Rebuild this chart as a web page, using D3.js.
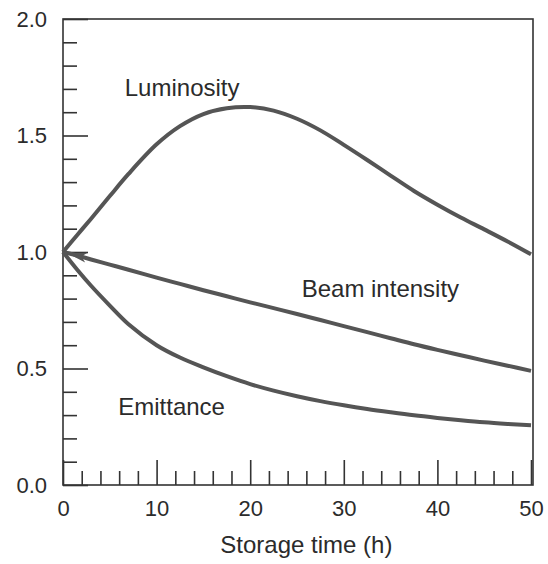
<!DOCTYPE html>
<html>
<head>
<meta charset="utf-8">
<script src="https://cdn.jsdelivr.net/npm/d3@7"></script>
<style>
  html, body { margin: 0; padding: 0; background: #fff; }
  svg { display: block; }
  text { font-family: "Liberation Sans", Arial, Helvetica, sans-serif; fill: #2b2b2b; }
</style>
</head>
<body>
<svg id="chart" width="548" height="564"></svg>
<script>
// Storage time in hours
const hours = [0, 1.5, 3, 5, 7, 10, 12.5, 15, 17.5, 20, 22.5, 25, 27.5, 30, 32.5, 35, 37.5, 40, 42.5, 45, 47.5, 50];

// Relative quantities (normalised to 1 at injection)
const luminosity = [1.0, 1.072, 1.143, 1.24, 1.335, 1.462, 1.54, 1.592, 1.617, 1.622, 1.607, 1.572, 1.522, 1.46, 1.395, 1.328, 1.262, 1.203, 1.148, 1.097, 1.045, 0.99];
const beamIntensity = [1.0, 0.985, 0.968, 0.946, 0.924, 0.89, 0.863, 0.836, 0.81, 0.784, 0.759, 0.734, 0.708, 0.682, 0.656, 0.63, 0.604, 0.58, 0.557, 0.534, 0.512, 0.49];
const emittance = [1.0, 0.925, 0.855, 0.77, 0.69, 0.6, 0.547, 0.505, 0.467, 0.433, 0.405, 0.381, 0.36, 0.342, 0.326, 0.312, 0.299, 0.288, 0.278, 0.269, 0.262, 0.256];

// Tick values
const xMajorTicks = [0, 10, 20, 30, 40, 50];
const xMinorTicks = [2, 4, 6, 8, 12, 14, 16, 18, 22, 24, 26, 28, 32, 34, 36, 38, 42, 44, 46, 48];
const yMajorTicks = [0, 0.5, 1.0, 1.5, 2.0];
const yMinorTicks = [0.1, 0.2, 0.3, 0.4, 0.6, 0.7, 0.8, 0.9, 1.1, 1.2, 1.3, 1.4, 1.6, 1.7, 1.8, 1.9];

// Curve labels, anchored in data units
const curveLabels = [
  { text: "Luminosity", t: 6.6, v: 1.67 },
  { text: "Beam intensity", t: 25.5, v: 0.807 },
  { text: "Emittance", t: 5.9, v: 0.30 }
];

const svg = d3.select("#chart");
const plotLeft = 63, plotRight = 531, plotTop = 19, plotBottom = 485;
const frameRight = 533;

const x = d3.scaleLinear().domain([0, 50]).range([plotLeft, plotRight]);
const y = d3.scaleLinear().domain([0, 2]).range([plotBottom, plotTop]);

const ink = "#333";

// Frame
svg.append("rect")
  .attr("x", plotLeft).attr("y", plotTop)
  .attr("width", frameRight - plotLeft).attr("height", plotBottom - plotTop)
  .attr("fill", "none").attr("stroke", ink).attr("stroke-width", 1.6);

function styleAxis(g) {
  g.select(".domain").remove();
  g.selectAll("line").attr("stroke", ink).attr("stroke-width", 1.6);
  g.selectAll("text").attr("fill", "#2b2b2b")
    .style("font-family", '"Liberation Sans", Arial, Helvetica, sans-serif')
    .style("font-size", "22px");
}

// Bottom axis: inward ticks, long at labelled values
svg.append("g").attr("transform", `translate(0,${plotBottom})`)
  .call(d3.axisBottom(x).tickValues(xMinorTicks).tickFormat("").tickSizeInner(-14).tickSizeOuter(0))
  .call(styleAxis);
svg.append("g").attr("transform", `translate(0,${plotBottom})`)
  .call(d3.axisBottom(x).tickValues(xMajorTicks).tickFormat(d3.format("d")).tickSizeInner(-25).tickSizeOuter(0).tickPadding(15))
  .call(styleAxis);

// Left axis
svg.append("g").attr("transform", `translate(${plotLeft},0)`)
  .call(d3.axisLeft(y).tickValues(yMinorTicks).tickFormat("").tickSizeInner(-14).tickSizeOuter(0))
  .call(styleAxis);
svg.append("g").attr("transform", `translate(${plotLeft},0)`)
  .call(d3.axisLeft(y).tickValues(yMajorTicks).tickFormat(d3.format(".1f")).tickSizeInner(-25).tickSizeOuter(0).tickPadding(16))
  .call(styleAxis);

// Arrowhead at the start of the intensity curve, pointing back to the origin
svg.append("defs").append("marker")
  .attr("id", "arrow")
  .attr("viewBox", "0 0 20 10")
  .attr("refX", -4).attr("refY", 5)
  .attr("markerWidth", 20).attr("markerHeight", 10)
  .attr("markerUnits", "userSpaceOnUse")
  .attr("orient", "auto")
  .style("overflow", "visible")
  .append("path")
  .attr("d", "M0,5 L20,0 L15,5 L20,10 Z")
  .attr("fill", "#555");

const line = d3.line()
  .x((d, i) => x(hours[i]))
  .y(d => y(d))
  .curve(d3.curveCatmullRom.alpha(0.5));

const series = [
  { name: "luminosity", values: luminosity, marker: false },
  { name: "beam-intensity", values: beamIntensity, marker: true },
  { name: "emittance", values: emittance, marker: false }
];

svg.append("g").selectAll("path")
  .data(series)
  .join("path")
  .attr("class", d => d.name)
  .attr("d", d => line(d.values))
  .attr("fill", "none")
  .attr("stroke", "#555")
  .attr("stroke-width", 4)
  .attr("stroke-linejoin", "round")
  .attr("marker-start", d => d.marker ? "url(#arrow)" : null);

// Curve labels
svg.append("g").selectAll("text")
  .data(curveLabels)
  .join("text")
  .attr("x", d => x(d.t))
  .attr("y", d => y(d.v))
  .style("font-size", "24px")
  .text(d => d.text);

// Axis title
svg.append("text")
  .attr("x", x(26))
  .attr("y", 553)
  .attr("text-anchor", "middle")
  .style("font-size", "24px")
  .text("Storage time (h)");
</script>
</body>
</html>
